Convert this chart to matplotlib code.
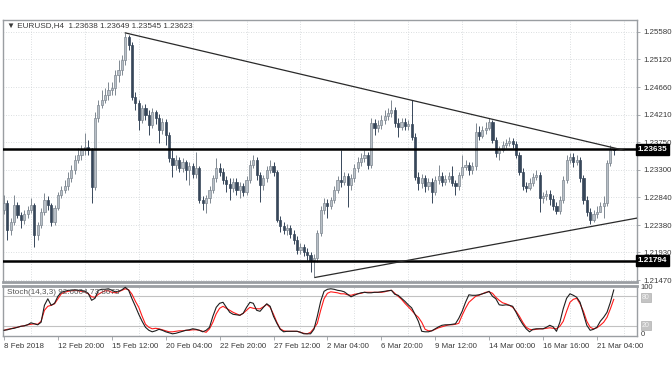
import matplotlib
matplotlib.use('Agg')
import matplotlib.pyplot as plt
import numpy as np

plt.rcParams['font.family'] = ['Liberation Sans', 'DejaVu Sans']

# EURUSD H4 candles
open_first = 1.2263
closes = [
    1.2275, 1.2230, 1.2243, 1.2271, 1.2255, 1.2246, 1.2256, 1.2263, 1.2271, 1.2221,
    1.2238, 1.2260, 1.2280, 1.2271, 1.2243, 1.2266, 1.2288, 1.2296, 1.2303, 1.2316,
    1.2329, 1.2346, 1.2354, 1.2362, 1.2367, 1.2362, 1.2301, 1.2415, 1.2437, 1.2445,
    1.2453, 1.2462, 1.2465, 1.2486, 1.2495, 1.2511, 1.2549, 1.2536, 1.2450, 1.2440,
    1.2412, 1.2432, 1.2420, 1.2404, 1.2425, 1.2415, 1.2395, 1.2409, 1.2387, 1.2349,
    1.2338, 1.2346, 1.2333, 1.2343, 1.2329, 1.2336, 1.2323, 1.2333, 1.2280, 1.2275,
    1.2283, 1.2296, 1.2316, 1.2333, 1.2326, 1.2313, 1.2306, 1.2300, 1.2310, 1.2296,
    1.2303, 1.2293, 1.2313, 1.2338, 1.2346, 1.2321, 1.2305, 1.2316, 1.2329, 1.2336,
    1.2326, 1.2246, 1.2236, 1.2230, 1.2233, 1.2223, 1.2213, 1.2197, 1.2202, 1.2193,
    1.2188, 1.2180, 1.2183, 1.2225, 1.2263, 1.2275, 1.2270, 1.2280, 1.2296, 1.2313,
    1.2310, 1.2320, 1.2305, 1.2316, 1.2333, 1.2343, 1.2349, 1.2354, 1.2338, 1.2407,
    1.2399, 1.2404, 1.2412, 1.2419, 1.2424, 1.2429, 1.2407, 1.2400, 1.2409, 1.2402,
    1.2405, 1.2384, 1.2318, 1.2308, 1.2316, 1.2303, 1.2310, 1.2293, 1.2313, 1.2320,
    1.2310, 1.2315, 1.2320, 1.2308, 1.2303, 1.2321, 1.2335, 1.2338, 1.2329, 1.2336,
    1.2392, 1.2386, 1.2395, 1.2399, 1.2409, 1.2379, 1.2357, 1.2362, 1.2371, 1.2374,
    1.2377, 1.2372, 1.2354, 1.2326, 1.2303, 1.2300, 1.2308, 1.2318, 1.2321, 1.2283,
    1.2286, 1.2290, 1.2281, 1.2270, 1.2261, 1.2280, 1.2313, 1.2346, 1.2351, 1.2343,
    1.2346, 1.2316, 1.2280, 1.2260, 1.2246, 1.2256, 1.2260, 1.2270, 1.2275, 1.2341,
    1.23638, 1.23623]
highs = [
    1.2288, 1.2280, 1.2250, 1.2288, 1.2276, 1.2260, 1.2263, 1.2270, 1.2283, 1.2275,
    1.2243, 1.2266, 1.2291, 1.2286, 1.2275, 1.2271, 1.2293, 1.2303, 1.2313, 1.2326,
    1.2338, 1.2354, 1.2366, 1.2371, 1.2391, 1.2379, 1.2366, 1.2425, 1.2445, 1.2462,
    1.2465, 1.2475, 1.2475, 1.2495, 1.2511, 1.2519, 1.2556, 1.2552, 1.2541, 1.2458,
    1.2445, 1.2437, 1.2438, 1.2429, 1.2432, 1.2429, 1.2422, 1.2415, 1.2414, 1.2392,
    1.2362, 1.2354, 1.2351, 1.2349, 1.2346, 1.2343, 1.2341, 1.2359, 1.2336, 1.2286,
    1.2288, 1.2303, 1.2321, 1.2349, 1.2341, 1.2333, 1.2320, 1.2316, 1.2316, 1.2316,
    1.2310, 1.2308, 1.2320, 1.2346, 1.2354, 1.2351, 1.2326, 1.2321, 1.2336, 1.2346,
    1.2343, 1.2329, 1.2253, 1.2243, 1.2240, 1.2238, 1.2230, 1.2220, 1.2209, 1.2207,
    1.2200, 1.2193, 1.2190, 1.2230, 1.2270, 1.2283, 1.2281, 1.2285, 1.2303, 1.2320,
    1.2362, 1.2326, 1.2324, 1.2323, 1.2339, 1.2351, 1.2357, 1.2362, 1.2359, 1.2415,
    1.2414, 1.2412, 1.2420, 1.2429, 1.2432, 1.2445, 1.2434, 1.2415, 1.2415, 1.2415,
    1.2412, 1.2445, 1.2391, 1.2326, 1.2323, 1.2321, 1.2316, 1.2316, 1.2320, 1.2338,
    1.2326, 1.2321, 1.2326, 1.2336, 1.2313, 1.2326, 1.2354, 1.2346, 1.2343, 1.2343,
    1.2407, 1.2402, 1.2402, 1.2409, 1.2415, 1.2412, 1.2384, 1.2369, 1.2377, 1.2381,
    1.2384, 1.2382, 1.2377, 1.2359, 1.2333, 1.2310, 1.2316, 1.2324, 1.2329, 1.2326,
    1.2293, 1.2296, 1.2296, 1.2288, 1.2276, 1.2286, 1.2320, 1.2354, 1.2357, 1.2357,
    1.2354, 1.2351, 1.2321, 1.2286, 1.2266, 1.2263, 1.2270, 1.2276, 1.2286, 1.2346,
    1.2371, 1.23649]
lows = [
    1.2256, 1.2213, 1.2221, 1.2238, 1.2250, 1.2233, 1.2240, 1.2250, 1.2258, 1.2202,
    1.2213, 1.2233, 1.2255, 1.2263, 1.2236, 1.2238, 1.2263, 1.2283, 1.2291, 1.2296,
    1.2310, 1.2323, 1.2341, 1.2346, 1.2354, 1.2354, 1.2275, 1.2296, 1.2409, 1.2432,
    1.2440, 1.2445, 1.2453, 1.2453, 1.2475, 1.2486, 1.2503, 1.2528, 1.2445, 1.2429,
    1.2395, 1.2407, 1.2412, 1.2387, 1.2399, 1.2405, 1.2374, 1.2389, 1.2371, 1.2343,
    1.2318, 1.2329, 1.2326, 1.2326, 1.2313, 1.2305, 1.2316, 1.2316, 1.2275, 1.2263,
    1.2258, 1.2275, 1.2291, 1.2310, 1.2320, 1.2306, 1.2293, 1.2280, 1.2293, 1.2288,
    1.2283, 1.2286, 1.2288, 1.2308, 1.2333, 1.2313, 1.2276, 1.2296, 1.2310, 1.2324,
    1.2320, 1.2243, 1.2227, 1.2223, 1.2221, 1.2217, 1.2207, 1.2191, 1.2191, 1.2187,
    1.2180, 1.2160, 1.2152, 1.2177, 1.2220, 1.2256, 1.2250, 1.2265, 1.2275, 1.2291,
    1.2301, 1.2305, 1.2268, 1.2296, 1.2310, 1.2326, 1.2336, 1.2343, 1.2331, 1.2333,
    1.2387, 1.2392, 1.2397, 1.2405, 1.2412, 1.2417, 1.2400, 1.2384, 1.2395, 1.2395,
    1.2395, 1.2379, 1.2313, 1.2296, 1.2300, 1.2293, 1.2296, 1.2275, 1.2288, 1.2306,
    1.2303, 1.2305, 1.2310, 1.2303, 1.2288, 1.2296, 1.2316, 1.2329, 1.2321, 1.2323,
    1.2329, 1.2379, 1.2382, 1.2389, 1.2395, 1.2374, 1.2351, 1.2346, 1.2359, 1.2366,
    1.2369, 1.2366, 1.2349, 1.2321, 1.2296, 1.2293, 1.2296, 1.2303, 1.2313, 1.2260,
    1.2275, 1.2280, 1.2271, 1.2263, 1.2256, 1.2256, 1.2275, 1.2308, 1.2341, 1.2335,
    1.2338, 1.2310, 1.2273, 1.2253, 1.2240, 1.2243, 1.2250, 1.2260, 1.2250, 1.2270,
    1.2336, 1.23545]

# Stochastic (14,3,3) main and signal lines
stoch_k = [
    12, 13, 15, 16, 18, 20, 21, 23, 27, 25, 23, 28, 62, 75, 62, 66, 80, 88, 90, 92,
    92, 93, 92, 92, 90, 86, 72, 76, 92, 94, 94, 95, 92, 89, 90, 93, 98, 92, 75, 60,
    44, 30, 18, 12, 9, 11, 14, 12, 9, 7, 5, 6, 8, 10, 12, 13, 15, 14, 12, 9,
    12, 18, 40, 58, 66, 68, 58, 48, 44, 43, 42, 46, 58, 68, 66, 52, 50, 58, 65, 60,
    40, 26, 14, 9, 10, 10, 10, 10, 8, 5, 5, 5, 14, 40, 70, 90, 94, 95, 94, 92,
    91, 89, 84, 79, 82, 85, 87, 88, 87, 87, 88, 88, 89, 90, 91, 92, 84, 82, 76, 70,
    63, 57, 44, 30, 10, 9, 9, 11, 15, 19, 22, 23, 23, 24, 25, 36, 50, 68, 83, 82,
    82, 83, 85, 87, 90, 80, 75, 63, 62, 63, 62, 60, 48, 35, 24, 15, 9, 14, 15, 15,
    15, 18, 22, 19, 10, 28, 55, 76, 85, 82, 78, 68, 45, 22, 12, 14, 18, 30, 38, 48,
    68, 92.66]
stoch_d = [
    12, 14, 15, 17, 18, 20, 21, 23, 24, 25, 24, 30, 52, 60, 62, 65, 75, 85, 88, 90,
    91, 92, 91, 90, 89, 85, 79, 78, 84, 88, 91, 91, 88, 87, 89, 92, 95, 93, 84, 70,
    58, 40, 24, 18, 15, 16, 15, 13, 11, 9, 9, 10, 11, 11, 12, 12, 13, 13, 12, 10,
    8, 15, 28, 45, 56, 60, 56, 52, 48, 45, 42, 46, 52, 58, 56, 55, 55, 59, 64, 58,
    44, 28, 15, 11, 10, 10, 10, 10, 8, 6, 5, 8, 16, 26, 52, 75, 86, 89, 88, 87,
    85, 85, 83, 82, 84, 85, 86, 88, 88, 88, 88, 88, 88, 89, 91, 92, 86, 80, 74, 66,
    59, 52, 44, 38, 28, 14, 11, 11, 14, 17, 19, 21, 23, 23, 24, 26, 42, 56, 68, 74,
    80, 82, 85, 88, 89, 86, 78, 72, 67, 65, 62, 58, 50, 40, 28, 18, 14, 13, 14, 15,
    15, 16, 17, 16, 15, 20, 30, 50, 68, 74, 76, 65, 50, 30, 18, 15, 17, 22, 28, 38,
    55, 73.87]

date_ticks = [0, 16, 32, 48, 64, 80, 96, 112, 128, 144, 160, 176]
date_labels = ['8 Feb 2018', '12 Feb 20:00', '15 Feb 12:00', '20 Feb 04:00',
               '22 Feb 20:00', '27 Feb 12:00', '2 Mar 04:00', '6 Mar 20:00',
               '9 Mar 12:00', '14 Mar 00:00', '16 Mar 16:00', '21 Mar 04:00']
price_ticks = [1.25580, 1.25120, 1.24660, 1.24210, 1.23750,
               1.23300, 1.22840, 1.22380, 1.21930, 1.21470]
level_high = 1.23635
level_low = 1.21794
trend_upper = [(36, 1.2556), (184, 1.2362)]
trend_lower = [(92.3, 1.21516), (188.1, 1.22500)]

opens = [open_first] + closes[:-1]
n = len(closes)
idx = np.arange(n)

grid_col = '#cfd3d6'
frame_col = '#9a9ea2'
txt_col = '#3a3a3a'

fig = plt.figure(figsize=(6.72, 3.72), dpi=100)
ax = fig.add_axes([3 / 672, 1 - 282 / 372, 634 / 672, 262 / 372])
ax2 = fig.add_axes([3 / 672, 1 - 336.3 / 372, 634 / 672, 50.8 / 372], sharex=ax)

# grid
for g in range(8, 190, 16):
    ax.axvline(g, color=grid_col, lw=0.6, ls=(0, (1, 2)), zorder=0)
    ax2.axvline(g, color=grid_col, lw=0.6, ls=(0, (1, 2)), zorder=0)
for p in price_ticks:
    ax.axhline(p, color=grid_col, lw=0.6, ls=(0, (1, 2)), zorder=0)

# candles
bull_fill, bull_edge = '#b8bfc7', '#7f8891'
bear_fill = '#37475a'
for i in range(n):
    o, c, h, l = opens[i], closes[i], highs[i], lows[i]
    up = c >= o
    col = bull_edge if up else bear_fill
    ax.vlines(i, l, h, color=col, lw=0.7, zorder=2)
    body = max(abs(c - o), 0.00006)
    ax.bar(i, body, bottom=min(o, c), width=0.64,
           color=bull_fill if up else bear_fill,
           edgecolor=col, linewidth=0.5, zorder=3)

# levels and trendlines
ax.axhline(level_high, color='black', lw=1.8, zorder=4)
ax.axhline(level_low, color='black', lw=1.8, zorder=4)
ax.plot([trend_upper[0][0], trend_upper[1][0]], [trend_upper[0][1], trend_upper[1][1]],
        color='#2a2a2a', lw=0.9, zorder=4)
ax.plot([trend_lower[0][0], trend_lower[1][0]], [trend_lower[0][1], trend_lower[1][1]],
        color='#2a2a2a', lw=0.9, zorder=4)

ax.set_xlim(-0.3, 187.9)
ax.set_ylim(1.21441, 1.25773)

ax.yaxis.tick_right()
ax.set_yticks(price_ticks)
ax.set_yticklabels(['%.5f' % p for p in price_ticks])
ax.tick_params(axis='y', direction='out', length=2.5, width=0.6, pad=2,
               labelsize=5.7, colors=frame_col, labelcolor=txt_col)
ax.tick_params(axis='x', length=0, labelbottom=False)

for lvl in (level_high, level_low):
    ax.text(1.0015, lvl, '%.5f' % lvl, transform=ax.get_yaxis_transform(),
            ha='left', va='center', fontsize=5.9, color='white', fontweight='bold',
            bbox=dict(boxstyle='square,pad=0.22', fc='black', ec='black'),
            zorder=10, clip_on=False)

ax.text(0.006, 0.977, '\u25bc EURUSD,H4  1.23638 1.23649 1.23545 1.23623',
        transform=ax.transAxes, ha='left', va='center', fontsize=5.9, color=txt_col)

# stochastic panel
ax2.axhline(80, color='#c2c2c2', lw=0.8, zorder=1)
ax2.axhline(20, color='#c2c2c2', lw=0.8, zorder=1)
ax2.plot(idx, stoch_k, color='#1e1e1e', lw=0.8, zorder=3)
ax2.plot(idx, stoch_d, color='#ff1a1a', lw=0.8, zorder=2)
ax2.set_ylim(0, 101.6)
ax2.set_yticks([])
ax2.text(0.006, 88, 'Stoch(14,3,3) 92.6604 73.8673', transform=ax2.get_yaxis_transform(),
         ha='left', va='center', fontsize=5.9, color='#555555')
ax2.text(1.006, 97, '100', transform=ax2.get_yaxis_transform(), ha='left', va='center',
         fontsize=5.5, color=txt_col, clip_on=False)
ax2.text(1.006, 3, '0', transform=ax2.get_yaxis_transform(), ha='left', va='center',
         fontsize=5.5, color=txt_col, clip_on=False)
for lv in (80, 20):
    ax2.text(1.008, lv - 2 if lv == 80 else lv + 2, str(lv),
             transform=ax2.get_yaxis_transform(), ha='left',
             va='center', fontsize=5.0, color='#f2f2f2', clip_on=False,
             bbox=dict(boxstyle='square,pad=0.12', fc='#c4c4c4', ec='#b0b0b0', lw=0.5))

ax2.set_xticks(date_ticks)
ax2.set_xticklabels(date_labels)
for lab in ax2.get_xticklabels():
    lab.set_horizontalalignment('left')
ax2.tick_params(axis='x', direction='out', length=3, width=0.6, pad=2,
                labelsize=5.7, colors=frame_col, labelcolor=txt_col)

for a in (ax, ax2):
    for s in a.spines.values():
        s.set_color(frame_col)
        s.set_linewidth(1.0)
ax.spines['bottom'].set_linewidth(2.0)
ax2.spines['top'].set_linewidth(2.0)

fig.savefig('out.png', dpi=100)
